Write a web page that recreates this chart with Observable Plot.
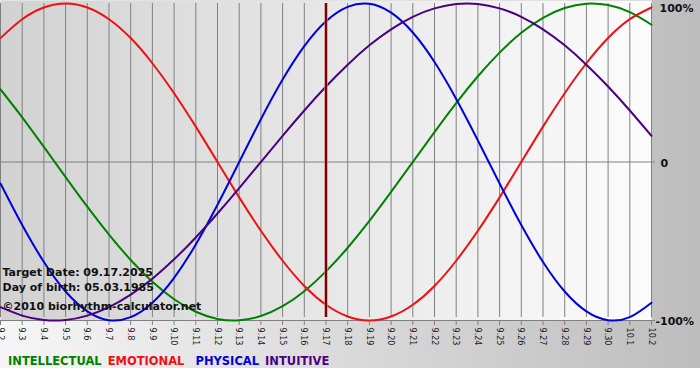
<!DOCTYPE html>
<html>
<head>
<meta charset="utf-8">
<script src="https://cdn.jsdelivr.net/npm/d3@7"></script>
<script src="https://cdn.jsdelivr.net/npm/@observablehq/plot@0.6"></script>
<style>
  html, body { margin: 0; padding: 0; background: #ffffff; }
  #wrap { width: 700px; height: 368px; background: linear-gradient(to right, #f6f6f6, #bdbdbd); position: relative; overflow: hidden; }
  #legend { position: absolute; left: 8px; top: 354px; font-family: "DejaVu Sans", Verdana, sans-serif; font-weight: bold; font-size: 11.5px; white-space: pre; letter-spacing: 0px; }
</style>
</head>
<body>
<div id="wrap">
  <div id="chart"></div>
  <div id="legend"></div>
</div>
<script>
// Day labels along the x axis (one per day, 9.2 .. 10.2)
const dayLabels = ["9.2","9.3","9.4","9.5","9.6","9.7","9.8","9.9","9.10","9.11","9.12","9.13","9.14","9.15","9.16","9.17","9.18","9.19","9.20","9.21","9.22","9.23","9.24","9.25","9.26","9.27","9.28","9.29","9.30","10.1","10.2"];

// Daily cycle values (-1 .. 1)
const intellectual = [0.458,0.282,0.095,-0.095,-0.282,-0.458,-0.618,-0.756,-0.866,-0.945,-0.990,-0.999,-0.972,-0.910,-0.815,-0.690,-0.541,-0.372,-0.189,0.000,0.189,0.372,0.541,0.690,0.815,0.910,0.972,0.999,0.990,0.945,0.866];
const emotional    = [0.782,0.901,0.975,1.000,0.975,0.901,0.782,0.623,0.434,0.223,0.000,-0.223,-0.434,-0.623,-0.782,-0.901,-0.975,-1.000,-0.975,-0.901,-0.782,-0.623,-0.434,-0.223,0.000,0.223,0.434,0.623,0.782,0.901,0.975];
const physical     = [-0.136,-0.398,-0.631,-0.817,-0.942,-0.998,-0.979,-0.888,-0.731,-0.520,-0.270,0.000,0.270,0.520,0.731,0.888,0.979,0.998,0.942,0.817,0.631,0.398,0.136,-0.136,-0.398,-0.631,-0.817,-0.942,-0.998,-0.979,-0.888];
const intuitive    = [-0.916,-0.969,-0.997,-0.997,-0.969,-0.916,-0.837,-0.736,-0.614,-0.476,-0.325,-0.165,0.000,0.165,0.325,0.476,0.614,0.736,0.837,0.916,0.969,0.997,0.997,0.969,0.916,0.837,0.736,0.614,0.476,0.325,0.165];

const seriesNames  = ["INTELLECTUAL","EMOTIONAL","PHYSICAL","INTUITIVE"];
const seriesColors = ["#008000","#ee1111","#0000dd","#4b0082"];
const targetLabel = "9.17";
const infoLines = ["Target Date: 09.17.2025","Day of birth: 05.03.1985","\u00a92010 biorhythm-calculator.net"];
const yTickValues = [1, 0, -1];
const yTickLabels = ["100%", "0", "-100%"];

const days = dayLabels.map((_, i) => i);
const seriesValues = [intellectual, emotional, physical, intuitive];
const rows = [];
seriesNames.forEach((name, s) => {
  seriesValues[s].forEach((v, i) => rows.push({day: i, value: v, series: name}));
});
const targetDay = dayLabels.indexOf(targetLabel);

const bgDefs = () => {
  const defs = d3.create("svg:defs");
  const g = defs.append("linearGradient").attr("id", "plotbg").attr("x1", "0").attr("x2", "1").attr("y1", "0").attr("y2", "0");
  g.append("stop").attr("offset", "0%").attr("stop-color", "#d2d2d2");
  g.append("stop").attr("offset", "100%").attr("stop-color", "#fcfcfc");
  return defs.node();
};

const infoFont = "DejaVu Sans, sans-serif";

const chart = Plot.plot({
  width: 700,
  height: 345,
  marginLeft: 0,
  marginRight: 49,
  marginTop: 3,
  marginBottom: 25,
  style: {background: "transparent", fontFamily: "DejaVu Sans Condensed, DejaVu Sans, sans-serif", fontSize: "9px", color: "#222"},
  x: {domain: [0, days.length - 1], axis: null},
  y: {domain: [-1, 1], axis: null},
  color: {domain: seriesNames, range: seriesColors},
  marks: [
    bgDefs,
    Plot.frame({fill: "url(#plotbg)", stroke: null, insetTop: -3}),
    Plot.ruleX(days, {x: d => d, y1: -1, y2: 1, stroke: "#808080", strokeWidth: 1, insetTop: -3}),
    Plot.axisX({ticks: days, tickFormat: i => dayLabels[i], tickSize: 5, tickRotate: 90, tickPadding: 2, stroke: "#808080", fill: "#222", label: null}),
    Plot.ruleY([0, -1], {stroke: "#808080", strokeWidth: 1, insetRight: -4}),
    Plot.ruleX([days.length - 1], {y1: -1, y2: 1, stroke: "#808080", insetTop: -3}),
    Plot.line(rows, {x: "day", y: "value", z: "series", stroke: "series", strokeWidth: 2, curve: "natural"}),
    Plot.ruleX([targetDay], {y1: -1, y2: 1, stroke: "#d08080", strokeWidth: 4, strokeOpacity: 0.6, insetTop: -3}),
    Plot.ruleX([targetDay], {y1: -1, y2: 1, stroke: "#7a0000", strokeWidth: 2, insetTop: -3}),
    Plot.text([yTickLabels[0]], {x: () => days.length - 1, y: () => yTickValues[0], text: d => d, textAnchor: "start", dx: 8, dy: 5, fontWeight: "bold", fontSize: 11, fill: "#111", fontFamily: "DejaVu Sans, sans-serif"}),
    Plot.text([yTickLabels[1]], {x: () => days.length - 1, y: () => yTickValues[1], text: d => d, textAnchor: "start", dx: 9, dy: 1, fontWeight: "bold", fontSize: 11, fill: "#111", fontFamily: "DejaVu Sans, sans-serif"}),
    Plot.text([yTickLabels[2]], {x: () => days.length - 1, y: () => yTickValues[2], text: d => d, textAnchor: "start", dx: 4, dy: 1, fontWeight: "bold", fontSize: 11, fill: "#111", fontFamily: "DejaVu Sans, sans-serif"}),
    Plot.text([infoLines[0]], {frameAnchor: "top-left", dx: 2, dy: 269, text: d => d, textAnchor: "start", lineAnchor: "middle", fontWeight: "bold", fontSize: 11, fill: "#111", fontFamily: infoFont}),
    Plot.text([infoLines[1]], {frameAnchor: "top-left", dx: 2, dy: 284, text: d => d, textAnchor: "start", lineAnchor: "middle", fontWeight: "bold", fontSize: 11, fill: "#111", fontFamily: infoFont}),
    Plot.text([infoLines[2]], {frameAnchor: "top-left", dx: 2, dy: 303, text: d => d, textAnchor: "start", lineAnchor: "middle", fontWeight: "bold", fontSize: 11, fill: "#111", fontFamily: infoFont})
  ]
});
document.getElementById("chart").appendChild(chart);

const legend = document.getElementById("legend");
seriesNames.forEach((name, s) => {
  const span = document.createElement("span");
  span.textContent = name;
  span.style.color = seriesColors[s];
  span.style.marginRight = s === 1 ? "11px" : "6px";
  legend.appendChild(span);
});
</script>
</body>
</html>
